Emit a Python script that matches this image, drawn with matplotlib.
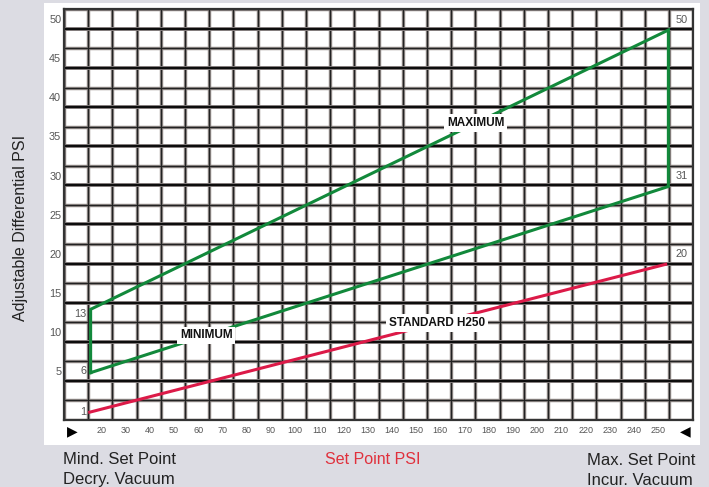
import numpy as np
import matplotlib
matplotlib.use("Agg")
import matplotlib.pyplot as plt
from matplotlib.patches import Rectangle

# ---------------- data ----------------
y_tick_values = [5, 10, 15, 20, 25, 30, 35, 40, 45, 50]
x_tick_values = [20, 30, 40, 50, 60, 70, 80, 90, 100, 110, 120, 130, 140, 150,
                 160, 170, 180, 190, 200, 210, 220, 230, 240, 250]
envelope_x = [16.0, 254.7]          # set point at left / right edges of the envelope
maximum_y = [12.9, 48.6]            # maximum differential line
minimum_y = [4.8, 28.6]             # minimum differential line
standard_x = [15.0, 254.2]
standard_y = [-0.3, 18.7]           # standard H250 line
left_labels = ["13", "6", "1"]
right_labels = ["50", "31", "20"]
series_names = ["MAXIMUM", "MINIMUM", "STANDARD H250"]

# ---------------- layout / style ----------------
W, H = 709, 487
GREEN = "#12893b"
RED = "#dc1a48"
TICK_GRAY = "#555555"
FONT = ["Liberation Sans", "DejaVu Sans"]
plt.rcParams["font.family"] = FONT

fig = plt.figure(figsize=(W / 100, H / 100), dpi=100, facecolor="#dcdce3")


def fx(px):
    return px / W


def fy(py):
    return 1 - py / H


# white panel
fig.patches.append(Rectangle((fx(44), fy(445)), (700 - 44) / W, (445 - 3.3) / H,
                             transform=fig.transFigure, facecolor="white",
                             edgecolor="none", zorder=-5))

ax = fig.add_axes([fx(64), fy(420), (693.3 - 64) / W, (420 - 9.3) / H])
ax.set_zorder(2)
ax.set_facecolor("white")
ax.set_xlim(5, 265)
ax.set_ylim(-1.25, 51.25)

# grid paper
for xv in np.arange(5, 266, 10):
    ax.axvline(xv, color="#9a9290", lw=2.5, zorder=1)
    ax.axvline(xv, color="#222222", lw=1.0, zorder=1.1)
for k, yv in enumerate(np.arange(-1.25, 51.3, 2.5)):
    if k % 2 == 0 and 0 < k < 21:
        ax.axhline(yv, color="#9a9292", lw=2.8, zorder=1.2)
        ax.axhline(yv, color="#0d0d0d", lw=1.7, zorder=1.3)
    else:
        ax.axhline(yv, color="#9a9290", lw=2.5, zorder=1)
        ax.axhline(yv, color="#222222", lw=1.0, zorder=1.1)

for s in ax.spines.values():
    s.set_color("#333333")
    s.set_linewidth(1.6)
    s.set_zorder(2)

# envelope (maximum / minimum)
env_x = [envelope_x[0], envelope_x[0], envelope_x[1], envelope_x[1], envelope_x[0]]
env_y = [minimum_y[0], maximum_y[0], maximum_y[1], minimum_y[1], minimum_y[0]]
ax.plot(env_x, env_y, color=GREEN, lw=2.2, solid_joinstyle="miter", zorder=3)
# standard
ax.plot(standard_x, standard_y, color=RED, lw=2.2, solid_capstyle="butt", zorder=3)

# series labels on lines
lab_style = dict(ha="center", va="center", fontsize=8.5, fontweight="bold",
                 color="#111111", zorder=5,
                 bbox=dict(boxstyle="square,pad=0.25", fc="white", ec="none"))
lx = [175.0, 63.7, 159.0]
ax.text(lx[0], np.interp(lx[0], envelope_x, maximum_y), series_names[0], **lab_style)
ax.text(lx[1], np.interp(lx[1], envelope_x, minimum_y), series_names[1], **lab_style)
ax.text(lx[2], np.interp(lx[2], standard_x, standard_y), series_names[2], **lab_style)

# value labels at ends
small = dict(fontsize=7.8, color=TICK_GRAY, va="center", zorder=4)
left_y = [12.3, 5.0, -0.2]
for lab, yv in zip(left_labels, left_y):
    ax.text(14.3, yv, lab, ha="right", **small)
right_y = [maximum_y[1], minimum_y[1], standard_y[1]]
for lab, yv in zip(right_labels, right_y):
    ax.text(260.2, yv + 1.3, lab, ha="center", **small)

# ticks
ax.set_yticks(y_tick_values)
ax.set_yticklabels([str(v) for v in y_tick_values])
ax.set_xticks(np.array(x_tick_values) + 0.5)
ax.set_xticklabels([str(v) for v in x_tick_values])
ax.tick_params(axis="y", length=0, pad=2.0, labelsize=7.8, labelcolor=TICK_GRAY)
ax.tick_params(axis="x", length=0, pad=4.5, labelsize=6.5, labelcolor=TICK_GRAY)

# arrows
fig.text(fx(72.5), fy(431), "\u25B6", ha="center", va="center", fontsize=10,
         family="DejaVu Sans", color="black")
fig.text(fx(685.5), fy(431), "\u25C0", ha="center", va="center", fontsize=10,
         family="DejaVu Sans", color="black")

# axis texts
fig.text(fx(21), fy(227.5), "Adjustable Differential PSI", rotation=90,
         ha="center", va="center", fontsize=11.5, color="#222222")
fig.text(fx(373), fy(459), "Set Point PSI", ha="center", va="center",
         fontsize=11.5, color="#e0303c")
fig.text(fx(63), fy(469.5), "Mind. Set Point\nDecry. Vacuum", ha="left",
         va="center", fontsize=12, color="#222222", linespacing=1.42)
fig.text(fx(587), fy(470.5), "Max. Set Point\nIncur. Vacuum", ha="left",
         va="center", fontsize=12, color="#222222", linespacing=1.42)

fig.savefig("out.png", dpi=100, facecolor=fig.get_facecolor())
